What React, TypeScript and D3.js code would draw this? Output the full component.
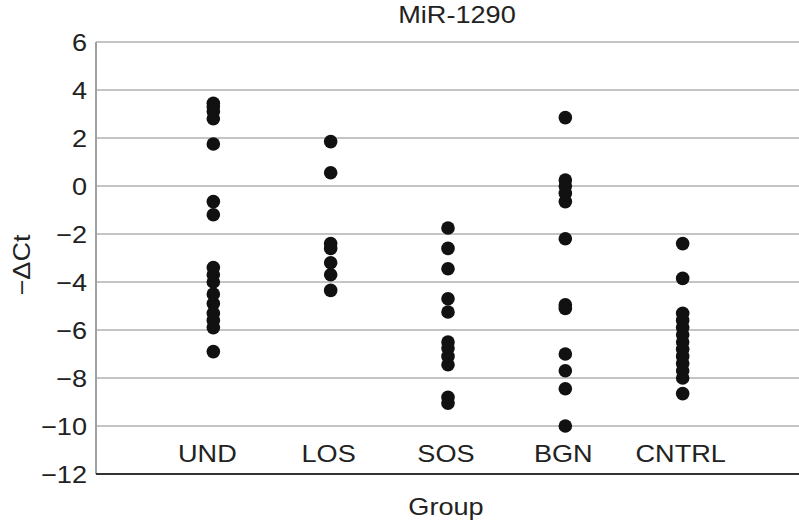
import React, { useRef, useEffect } from 'react';
import * as d3 from 'd3';

// groups along the x axis
const groups = ['UND', 'LOS', 'SOS', 'BGN', 'CNTRL'];

// −ΔCt values, one list per group
const undValues = [3.45, 3.3, 3.1, 2.8, 1.75, -0.65, -1.2, -3.4, -3.7, -4.0, -4.5, -4.9, -5.3, -5.6, -5.9, -6.9];
const losValues = [1.85, 0.55, -2.4, -2.6, -3.2, -3.7, -4.35];
const sosValues = [-1.75, -2.6, -3.45, -4.7, -5.25, -6.5, -6.75, -7.1, -7.45, -8.8, -9.05];
const bgnValues = [2.85, 0.25, 0.0, -0.3, -0.65, -2.2, -4.95, -5.1, -7.0, -7.7, -8.45, -10.0];
const cntrlValues = [-2.4, -3.85, -5.3, -5.6, -5.9, -6.2, -6.5, -6.8, -7.1, -7.4, -7.7, -8.0, -8.65];

const yTicks = [6, 4, 2, 0, -2, -4, -6, -8, -10, -12];

const App = () => {
    const svgRef = useRef(null);

    useEffect(() => {
        const svg = d3.select(svgRef.current);
        svg.selectAll('*').remove();

        const width = 799;
        const font = '"Liberation Sans", Arial, sans-serif';
        const fontSize = 24;
        const stretch = 1.13; // the source figure is a little wider than tall
        const seriesList = [undValues, losValues, sosValues, bgnValues, cntrlValues];

        const x = d3.scaleLinear().domain([0, 6]).range([96, 800]);
        const y = d3.scaleLinear().domain([-12, 6]).range([474, 42]);

        const label = (g, tx, ty, str, anchor, rotate = 0) =>
            g.append('text')
                .attr('transform', `translate(${tx},${ty}) rotate(${rotate}) scale(${stretch},1)`)
                .attr('dy', '0.36em')
                .attr('text-anchor', anchor)
                .attr('font-family', font)
                .attr('font-size', fontSize)
                .attr('fill', '#222')
                .text(str);

        // gridlines
        svg.append('g')
            .selectAll('line')
            .data(yTicks.filter(t => t !== -12))
            .join('line')
            .attr('x1', x(0))
            .attr('x2', width)
            .attr('y1', d => y(d))
            .attr('y2', d => y(d))
            .attr('stroke', '#c4c4c4')
            .attr('stroke-width', 2);

        // left axis line
        svg.append('line')
            .attr('x1', x(0)).attr('x2', x(0))
            .attr('y1', y(6)).attr('y2', y(-12))
            .attr('stroke', '#a0a0a0')
            .attr('stroke-width', 2);

        // bottom axis line
        svg.append('line')
            .attr('x1', x(0)).attr('x2', width)
            .attr('y1', y(-12)).attr('y2', y(-12))
            .attr('stroke', '#333')
            .attr('stroke-width', 2);

        // y tick labels
        const tickG = svg.append('g');
        yTicks.forEach(t => {
            label(tickG, 87, y(t), t < 0 ? '\u2212' + Math.abs(t) : String(t), 'end');
        });

        // points
        svg.append('g')
            .selectAll('g')
            .data(seriesList)
            .join('g')
            .selectAll('circle')
            .data((vals, i) => vals.map(v => ({ i, v })))
            .join('circle')
            .attr('cx', d => x(d.i + 1))
            .attr('cy', d => y(d.v))
            .attr('r', 6.8)
            .attr('fill', '#111');

        // category labels
        const catG = svg.append('g');
        groups.forEach((g, i) => {
            label(catG, x(i + 1) - (i === 0 ? 6 : 2), 453, g, 'middle');
        });

        // titles
        label(svg, 457, 14, 'MiR-1290', 'middle');
        label(svg, 446, 506, 'Group', 'middle');
        label(svg, 21, 265, '\u2212\u0394Ct', 'middle', -90);
    }, []);

    return (
        <svg
            ref={svgRef}
            width={799}
            height={523}
            style={{ position: 'absolute', left: 0, top: 0, background: '#fff' }}
        ></svg>
    );
};

export default App;
